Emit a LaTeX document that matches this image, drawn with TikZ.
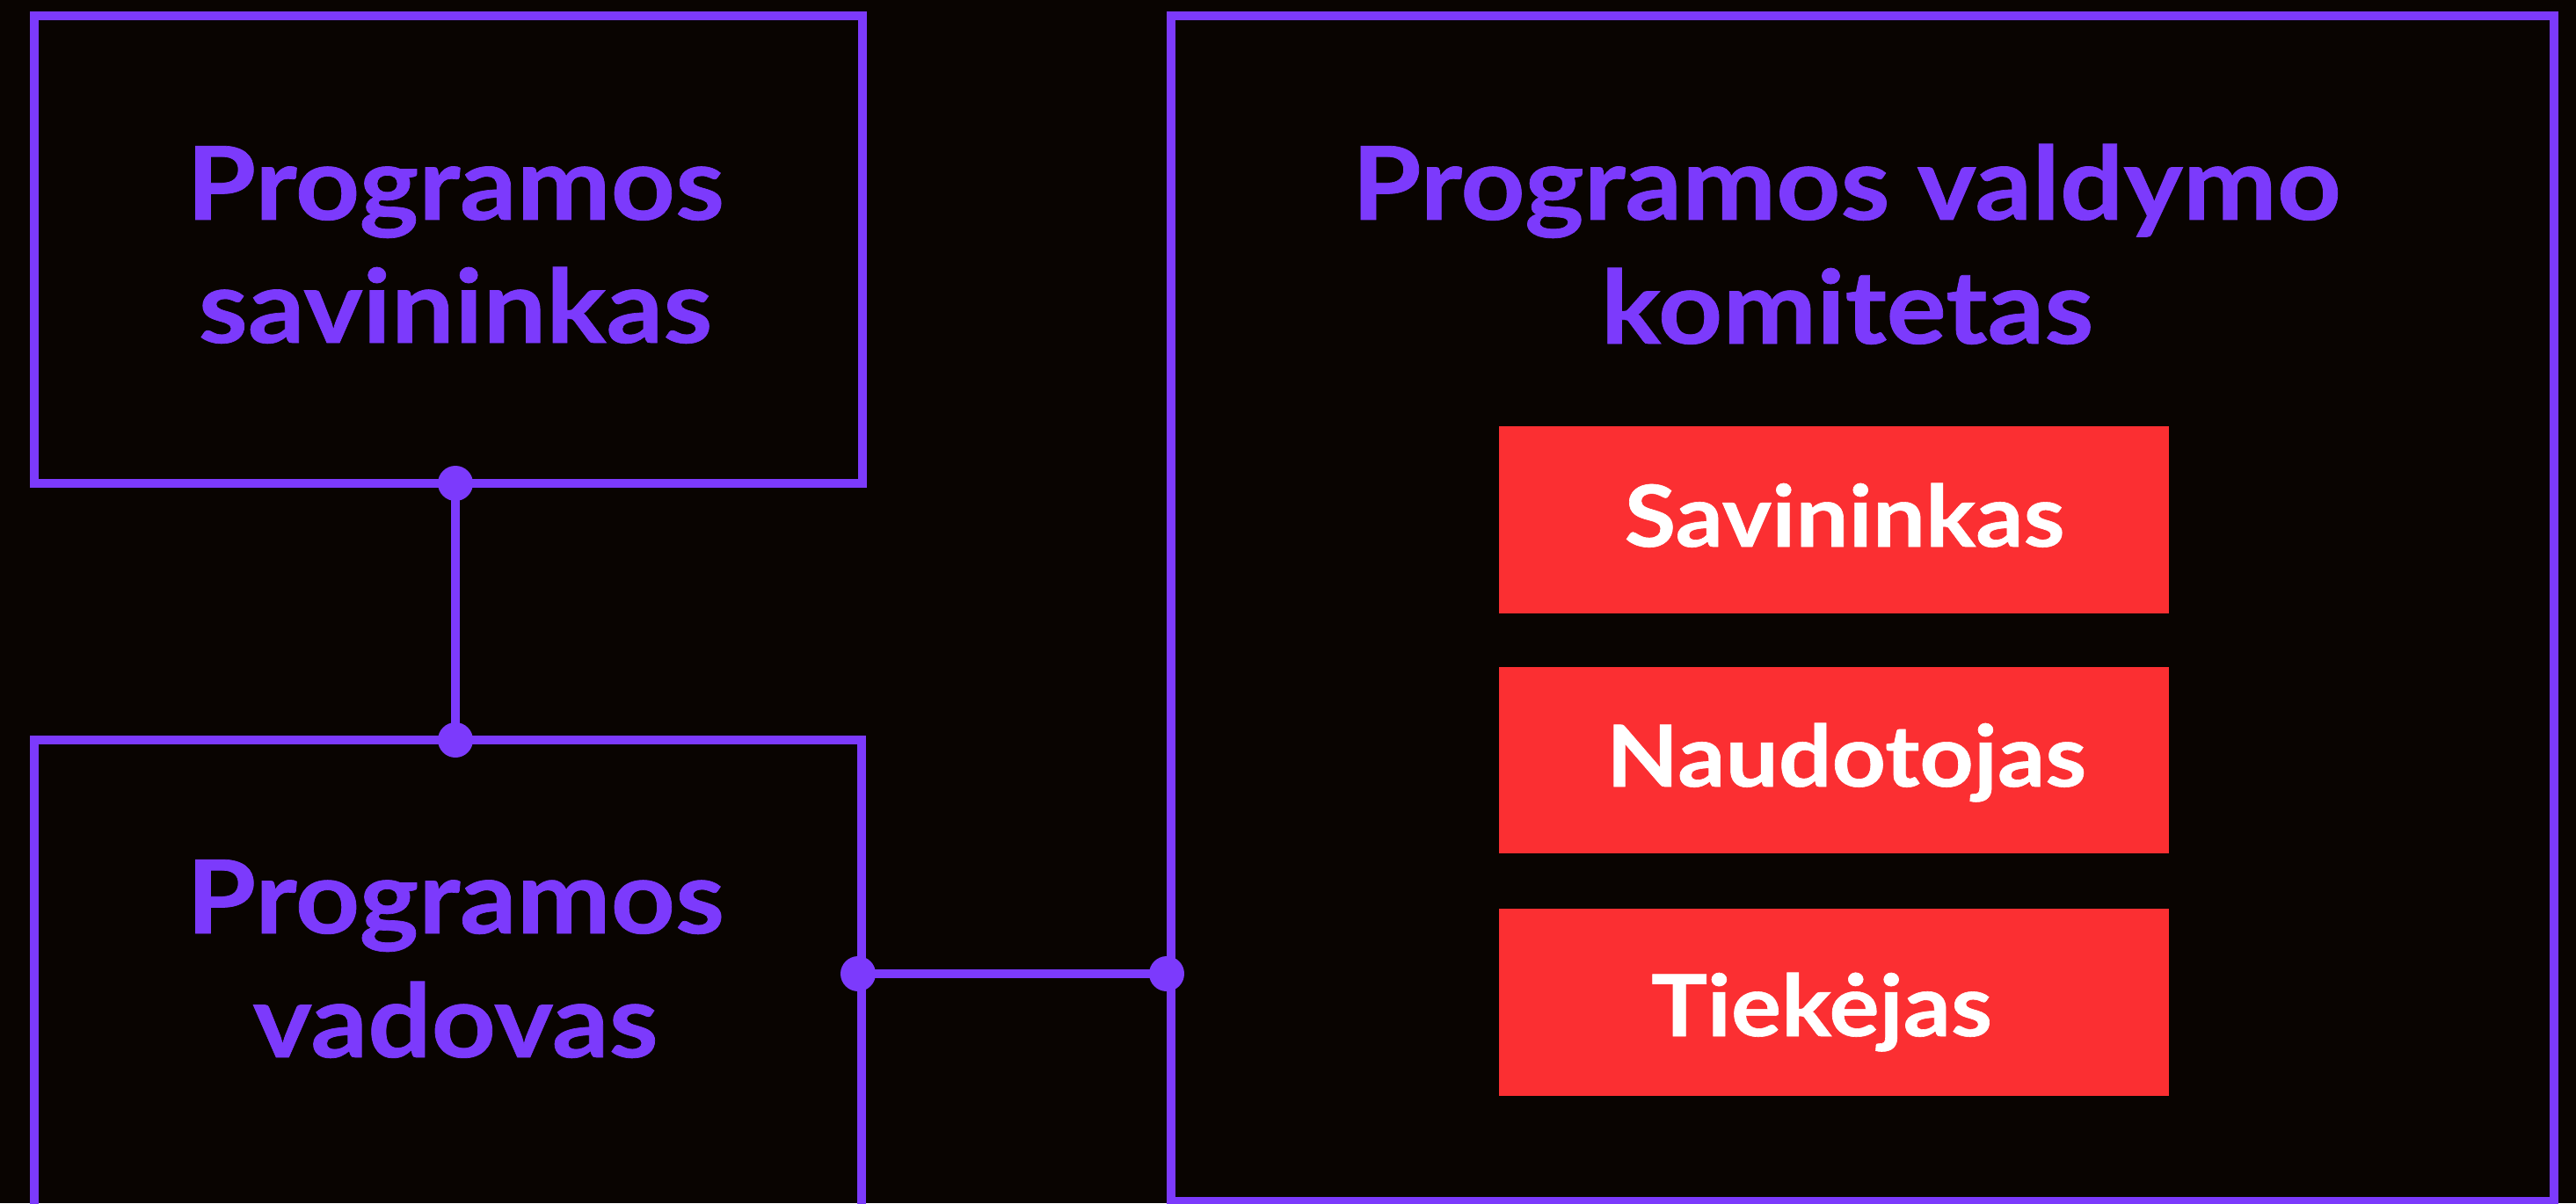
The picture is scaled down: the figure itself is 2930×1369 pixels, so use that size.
\documentclass[tikz,border=0pt]{standalone}
\usepackage{graphicx}
\usepackage{fontspec}
\setmainfont{Lato}
\newfontface\heavyface{Lato Bold}[FakeBold=0.6]
\usetikzlibrary{fit}
\definecolor{vio}{RGB}{124,58,252}
\definecolor{redbox}{RGB}{251,47,50}
\definecolor{bgc}{RGB}{9,4,1}
\newcommand{\wide}[1]{\scalebox{1.1}[1]{#1}}
\tikzset{
  frame/.style={draw=vio, line width=2.5pt, inner sep=0pt},
  redrect/.style={fill=redbox, inner sep=0pt},
  title/.style={text=vio, font=\heavyface\fontsize{29}{35}\selectfont, anchor=base, inner sep=0pt},
  label/.style={text=white, font=\heavyface\fontsize{24.3}{29}\selectfont, anchor=base, inner sep=0pt},
  conn/.style={draw=vio, line width=2.5pt},
  joint/.style={circle, fill=vio, minimum size=10pt, inner sep=0pt}
}
\begin{document}
\begin{tikzpicture}[x=0.25pt,y=-0.25pt]
\fill[bgc] (0,0) rectangle (2930,1369);
\useasboundingbox (0,0) rectangle (2930,1369);
\begin{scope}
\clip (0,0) rectangle (2930,1369);
\node[frame, fit={(39,18) (981,550)}] (owner) {};
\node[frame, fit={(39,842) (980,1600)}] (manager) {};
\node[frame, fit={(1331.5,18) (2905,1367)}] (committee) {};
\end{scope}

\node[redrect, fit={(1705,485) (2467,698)}] (r1) {};
\node[redrect, fit={(1705,759) (2467,971)}] (r2) {};
\node[redrect, fit={(1705,1034) (2467,1247)}] (r3) {};

\node[title] (t1a) at (518,250) {\wide{Programos}};
\node[title] (t1b) at (518,390) {\wide{savininkas}};
\node[title] (t2a) at (518,1062) {\wide{Programos}};
\node[title] (t2b) at (518,1203) {\wide{vadovas}};
\node[title] (t3a) at (2100,250) {\wide{Programos valdymo}};
\node[title] (t3b) at (2101,391) {\wide{komitetas}};

\node[label] (l1) at (2098,622) {\wide{Savininkas}};
\node[label] (l2) at (2100,895) {\wide{Naudotojas}};
\node[label] (l3) at (2072,1179) {\wide{Tiekėjas}};

\coordinate (p1) at (518,550);
\coordinate (p2) at (518,842);
\coordinate (p3) at (976,1108);
\coordinate (p4) at (1327,1108);
\draw[conn] (p1) -- (p2);
\draw[conn] (p3) -- (p4);
\node[joint] (j1) at (p1) {};
\node[joint] (j2) at (p2) {};
\node[joint] (j3) at (p3) {};
\node[joint] (j4) at (p4) {};
\end{tikzpicture}
\end{document}
